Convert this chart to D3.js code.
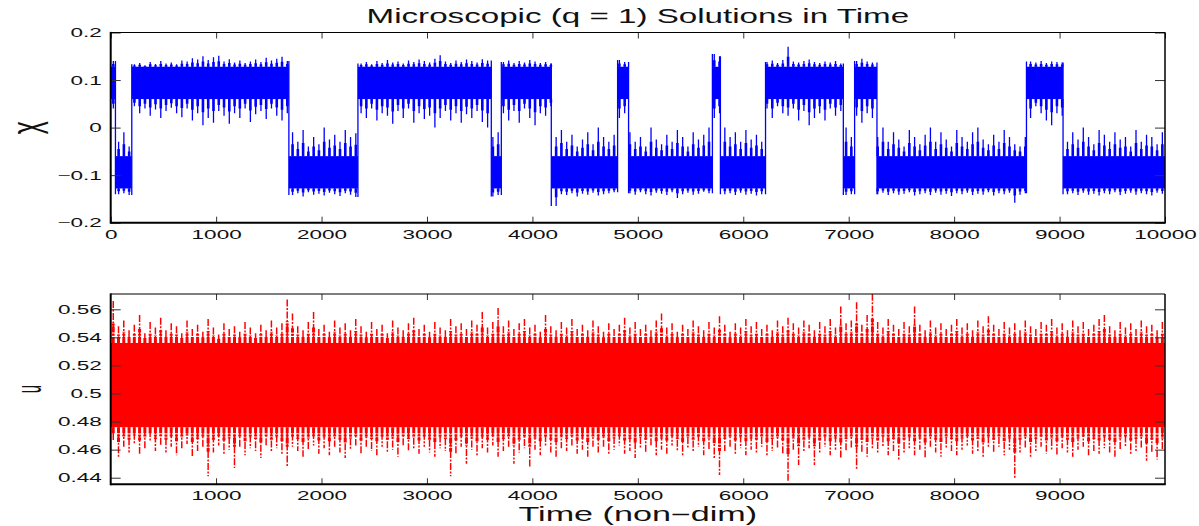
<!DOCTYPE html>
<html>
<head>
<meta charset="utf-8">
<script src="https://cdn.jsdelivr.net/npm/d3@7"></script>
<style>
  html, body { margin: 0; padding: 0; background: #fff; }
  svg { display: block; font-family: "Liberation Sans", Arial, Helvetica, sans-serif; }
</style>
</head>
<body>
<svg id="chart" width="1199" height="526"></svg>
<script>
// Both series are shown as min/max per 50-unit time bin
const BIN = 50;

// chi: regime switch times, sign of the first regime
const xSwitchTimes = [45, 200, 1690, 2345, 3610, 3705, 4179, 4808, 4912, 5707, 5783, 6211, 6949, 7056, 7268, 8686, 9033];
const xFirstSign = 1;

// chi: largest |x| in each bin
const xOuter = [
  0.140, 0.140, 0.138, 0.142,
  0.133, 0.136, 0.131, 0.138, 0.134, 0.140, 0.135, 0.137, 0.133, 0.141,
  0.139, 0.146, 0.143, 0.150, 0.142, 0.148, 0.151, 0.139, 0.144, 0.137,
  0.141, 0.136, 0.139, 0.143, 0.138, 0.147, 0.141, 0.145, 0.149, 0.140,
  0.142, 0.138, 0.145, 0.136, 0.141, 0.139, 0.143, 0.137, 0.140, 0.144, 0.138, 0.141, 0.146,
  0.135, 0.138, 0.133, 0.140, 0.136, 0.142, 0.137, 0.139, 0.135, 0.141, 0.138, 0.143, 0.140,
  0.137, 0.145, 0.152, 0.139, 0.136, 0.141, 0.138, 0.143, 0.140, 0.137, 0.144, 0.141,
  0.145, 0.142,
  0.138, 0.141, 0.136, 0.140, 0.137, 0.142, 0.139, 0.136, 0.138, 0.135,
  0.165, 0.140, 0.142, 0.138, 0.145, 0.139, 0.141, 0.137, 0.143, 0.140, 0.138, 0.136,
  0.142, 0.138,
  0.138, 0.141, 0.136, 0.140, 0.143, 0.137, 0.139, 0.142, 0.136, 0.148, 0.140, 0.137, 0.141, 0.139, 0.135, 0.138,
  0.155, 0.150,
  0.140, 0.138, 0.142, 0.137, 0.141, 0.139, 0.143, 0.140,
  0.138, 0.141, 0.136, 0.142, 0.170, 0.139, 0.137, 0.140, 0.143, 0.138, 0.136, 0.139, 0.137, 0.140, 0.135,
  0.142, 0.140,
  0.140, 0.145, 0.139, 0.137,
  0.140, 0.137, 0.142, 0.138, 0.141, 0.139, 0.136, 0.143, 0.140, 0.138, 0.142, 0.137, 0.141, 0.139, 0.144,
  0.138, 0.140, 0.137, 0.142, 0.139, 0.141, 0.136, 0.143, 0.138, 0.140, 0.137, 0.158, 0.141, 0.138,
  0.139, 0.137, 0.140, 0.136, 0.139, 0.138, 0.137,
  0.140, 0.138, 0.142, 0.137, 0.141, 0.139, 0.143, 0.138, 0.140, 0.136, 0.142, 0.139, 0.137, 0.141,
  0.138, 0.140, 0.143, 0.137, 0.139
];

// chi: smallest |x| in each bin
const xInner = [
  0.040, 0.030, 0.010, 0.040,
  0.045, 0.030, 0.040, 0.025, 0.038, 0.020, 0.035, 0.042, 0.030, 0.022,
  0.040, 0.015, 0.030, 0.005, 0.020, 0.010, 0.035, 0.025, 0.008, 0.030,
  0.020, 0.040, 0.012, 0.028, 0.035, 0.018, 0.040, 0.025, 0.015, 0.030,
  0.010, 0.030, 0.005, 0.040, 0.020, 0.035, 0.000, 0.025, 0.015, 0.030, 0.005, 0.020, 0.012,
  0.030, 0.020, 0.040, 0.015, 0.030, 0.025, 0.008, 0.035, 0.020, 0.040, 0.010, 0.030, 0.018,
  0.025, 0.000, 0.020, 0.035, 0.015, 0.030, 0.010, 0.028, 0.020, 0.035, 0.012, 0.000,
  0.020, 0.010,
  0.030, 0.015, 0.035, 0.010, 0.040, 0.020, 0.005, 0.030, 0.025, 0.045,
  0.020, 0.005, 0.030, 0.015, 0.040, 0.025, 0.010, 0.035, 0.000, 0.020, 0.030, 0.015,
  0.020, 0.030,
  0.010, 0.030, 0.020, 0.040, 0.000, 0.025, 0.035, 0.015, 0.030, 0.005, 0.020, 0.040, 0.010, 0.025, 0.015, 0.000,
  0.020, 0.030,
  0.000, 0.020, 0.010, 0.030, 0.005, 0.025, 0.015, 0.030,
  0.040, 0.020, 0.045, 0.030, 0.025, 0.040, 0.015, 0.035, 0.005, 0.020, 0.030, 0.015, 0.040, 0.025, 0.035,
  0.000, 0.020,
  0.025, 0.010, 0.030, 0.020,
  0.020, 0.000, 0.030, 0.010, 0.025, 0.040, 0.005, 0.020, 0.035, 0.015, 0.000, 0.030, 0.010, 0.025, 0.040,
  0.005, 0.020, 0.030, 0.010, 0.000, 0.025, 0.035, 0.015, 0.030, 0.005, 0.020, 0.035, 0.040, 0.020,
  0.020, 0.045, 0.030, 0.015, 0.005, 0.030, 0.025,
  0.030, 0.010, 0.025, 0.000, 0.020, 0.035, 0.005, 0.015, 0.030, 0.010, 0.025, 0.020, 0.040, 0.005,
  0.030, 0.015, 0.020, 0.035, 0.010
];

// chi: dense part of each regime (|x| from, to)
const xCore = [0.06, 0.128];

// u: largest value in each bin
const uHigh = [
  0.566, 0.548, 0.552, 0.545, 0.549, 0.556, 0.543, 0.551, 0.547, 0.554,
  0.545, 0.550, 0.548, 0.543, 0.552, 0.546, 0.549, 0.544, 0.553, 0.547,
  0.542, 0.550, 0.546, 0.548, 0.544, 0.551, 0.547, 0.543, 0.549, 0.545,
  0.552, 0.547, 0.550, 0.567, 0.557, 0.548, 0.545, 0.551, 0.558, 0.546,
  0.549, 0.544, 0.552, 0.547, 0.550, 0.545, 0.553, 0.548, 0.544, 0.551,
  0.546, 0.549, 0.543, 0.552, 0.547, 0.545, 0.550, 0.554, 0.546, 0.549,
  0.544, 0.551, 0.547, 0.545, 0.553, 0.548, 0.550, 0.546, 0.552, 0.549,
  0.558, 0.547, 0.551, 0.561, 0.548, 0.552, 0.546, 0.550, 0.553, 0.547,
  0.549, 0.544, 0.556, 0.548, 0.545, 0.551, 0.547, 0.553, 0.546, 0.549,
  0.545, 0.552, 0.548, 0.544, 0.550, 0.546, 0.549, 0.554, 0.547, 0.551,
  0.546, 0.549, 0.545, 0.552, 0.557, 0.547, 0.550, 0.544, 0.549, 0.546,
  0.552, 0.548, 0.545, 0.551, 0.547, 0.555, 0.549, 0.544, 0.550, 0.547,
  0.553, 0.548, 0.551, 0.546, 0.549, 0.545, 0.552, 0.548, 0.554, 0.550,
  0.547, 0.552, 0.549, 0.545, 0.551, 0.548, 0.553, 0.547, 0.562, 0.550,
  0.552, 0.565, 0.549, 0.556, 0.571, 0.551, 0.547, 0.553, 0.549, 0.546,
  0.551, 0.548, 0.562, 0.549, 0.545, 0.552, 0.547, 0.550, 0.546, 0.549,
  0.553, 0.547, 0.550, 0.545, 0.552, 0.548, 0.555, 0.549, 0.546, 0.551,
  0.547, 0.550, 0.545, 0.552, 0.548, 0.546, 0.551, 0.549, 0.553, 0.547,
  0.550, 0.545, 0.552, 0.548, 0.551, 0.546, 0.549, 0.553, 0.556, 0.548,
  0.545, 0.551, 0.547, 0.550, 0.546, 0.552, 0.548, 0.549, 0.545, 0.551
];

// u: smallest value in each bin
const uLow = [
  0.466, 0.455, 0.462, 0.458, 0.464, 0.457, 0.461, 0.466, 0.459, 0.463,
  0.458, 0.462, 0.456, 0.461, 0.464, 0.455, 0.459, 0.462, 0.441, 0.458,
  0.463, 0.457, 0.460, 0.447, 0.462, 0.456, 0.461, 0.459, 0.454, 0.463,
  0.458, 0.461, 0.456, 0.448, 0.462, 0.459, 0.455, 0.460, 0.463, 0.457,
  0.461, 0.456, 0.462, 0.458, 0.454, 0.460, 0.463, 0.457, 0.461, 0.459,
  0.456, 0.462, 0.458, 0.460, 0.455, 0.463, 0.459, 0.461, 0.457, 0.462,
  0.458, 0.455, 0.461, 0.459, 0.441, 0.457, 0.462, 0.450, 0.460, 0.456,
  0.461, 0.458, 0.463, 0.455, 0.459, 0.462, 0.450, 0.458, 0.461, 0.447,
  0.460, 0.456, 0.462, 0.458, 0.455, 0.461, 0.459, 0.463, 0.457, 0.460,
  0.455, 0.462, 0.458, 0.461, 0.456, 0.460, 0.463, 0.457, 0.459, 0.454,
  0.461, 0.458, 0.462, 0.456, 0.460, 0.457, 0.463, 0.459, 0.455, 0.461,
  0.458, 0.462, 0.456, 0.460, 0.453, 0.442, 0.459, 0.462, 0.457, 0.461,
  0.456, 0.460, 0.458, 0.462, 0.455, 0.459, 0.461, 0.457, 0.437, 0.460,
  0.449, 0.458, 0.461, 0.449, 0.457, 0.462, 0.456, 0.460, 0.454, 0.459,
  0.461, 0.446, 0.458, 0.455, 0.460, 0.457, 0.462, 0.456, 0.459, 0.452,
  0.458, 0.461, 0.456, 0.460, 0.454, 0.462, 0.458, 0.455, 0.461, 0.459,
  0.456, 0.460, 0.463, 0.457, 0.459, 0.454, 0.461, 0.458, 0.462, 0.456,
  0.460, 0.440, 0.458, 0.461, 0.455, 0.459, 0.462, 0.457, 0.460, 0.456,
  0.461, 0.458, 0.455, 0.460, 0.462, 0.456, 0.459, 0.457, 0.461, 0.458,
  0.455, 0.460, 0.462, 0.457, 0.459, 0.461, 0.452, 0.458, 0.453, 0.460
];

// u: dense band
const uCore = [0.476, 0.536];

// axes
const timeDomain = [0, 10000];
const timeDomainU = [1, 10000];
const timeTicksTop = [0, 1000, 2000, 3000, 4000, 5000, 6000, 7000, 8000, 9000, 10000];
const timeTicksBottom = [1000, 2000, 3000, 4000, 5000, 6000, 7000, 8000, 9000];
const xDomain = [-0.2, 0.2];
const xTicks = [-0.2, -0.1, 0, 0.1, 0.2];
const uDomain = [0.4353, 0.5709];
const uTicks = [0.44, 0.46, 0.48, 0.5, 0.52, 0.54, 0.56];

const title = "Microscopic (q = 1) Solutions in Time";
const xLabel = "Time (non\u2212dim)";

// layout
const LEFT = 110.7, RIGHT = 1165;
const P1 = { top: 32.5, bottom: 222.7 };
const P2 = { top: 294, bottom: 484.3 };
const STRETCH = 1.8; // the reference text is drawn wide

const svg = d3.select("#chart");

function stretchText(sel, k) {
  sel.each(function () {
    const w = this.getComputedTextLength();
    d3.select(this).attr("textLength", w * k).attr("lengthAdjust", "spacingAndGlyphs");
  });
}

// each bin: a thin bar over its full range, plus a thicker stub next to the dense band
// (the trace is busiest just outside the band, sparser toward the extremes)
function binStubs(bins, edgeLo, edgeHi) {
  const out = [];
  bins.forEach(d => {
    const lo = Math.min(d.hi, d.lo), hi = Math.max(d.hi, d.lo);
    if (hi > edgeHi(d)) out.push({ t: d.t, a: edgeHi(d), b: (edgeHi(d) + hi) / 2 });
    if (lo < edgeLo(d)) out.push({ t: d.t, a: edgeLo(d), b: (edgeLo(d) + lo) / 2 });
  });
  return out;
}

function drawFrame(g, p, xs, ys, xTickVals, yTickVals, yFmt) {
  const axes = g.append("g").attr("class", "axes");

  axes.append("g")
    .attr("transform", `translate(0,${p.bottom})`)
    .call(d3.axisBottom(xs).tickValues(xTickVals).tickSize(-6).tickPadding(7).tickFormat(d3.format("d")));
  axes.append("g")
    .attr("transform", `translate(0,${p.top})`)
    .call(d3.axisTop(xs).tickValues(xTickVals).tickSize(-6).tickFormat(""));
  axes.append("g")
    .attr("transform", `translate(${LEFT},0)`)
    .call(d3.axisLeft(ys).tickValues(yTickVals).tickSize(-10).tickPadding(9).tickFormat(yFmt));
  axes.append("g")
    .attr("transform", `translate(${RIGHT},0)`)
    .call(d3.axisRight(ys).tickValues(yTickVals).tickSize(-10).tickFormat(""));

  axes.selectAll(".domain").remove();
  axes.selectAll(".tick line").attr("stroke", "#333").attr("stroke-width", 1);
  axes.selectAll("text")
    .attr("font-size", 12.5)
    .attr("font-family", "Liberation Sans, Arial, sans-serif")
    .attr("fill", "#111");
  stretchText(axes.selectAll(".tick text"), STRETCH);

  // box: heavier left/bottom like the reference
  axes.append("line").attr("x1", LEFT).attr("x2", RIGHT).attr("y1", p.top).attr("y2", p.top)
    .attr("stroke", "#000").attr("stroke-width", 1.2);
  axes.append("line").attr("x1", RIGHT).attr("x2", RIGHT).attr("y1", p.top).attr("y2", p.bottom)
    .attr("stroke", "#000").attr("stroke-width", 1.5);
  axes.append("line").attr("x1", LEFT).attr("x2", LEFT).attr("y1", p.top - 0.6).attr("y2", p.bottom + 1)
    .attr("stroke", "#000").attr("stroke-width", 2);
  axes.append("line").attr("x1", LEFT).attr("x2", RIGHT + 0.75).attr("y1", p.bottom).attr("y2", p.bottom)
    .attr("stroke", "#000").attr("stroke-width", 2);
}

// ---------- top panel: chi ----------
const t1 = d3.scaleLinear().domain(timeDomain).range([LEFT, RIGHT]);
const y1 = d3.scaleLinear().domain(xDomain).range([P1.bottom, P1.top]);

const signAt = t => xSwitchTimes.reduce((s, T) => (t >= T ? -s : s), xFirstSign);

// one min/max bar per bin
const xBins = xOuter.map((o, i) => {
  const t = i * BIN + BIN / 2, s = signAt(t);
  return { t, s, hi: s * o, lo: s * xInner[i] };
});
// the jump at each switch, spanning the neighbouring bins' extremes
const xJumps = xSwitchTimes.map(T => {
  const i = Math.floor((T - BIN / 2) / BIN);
  return { t: T, hi: xBins[i].hi, lo: xBins[i + 1].hi };
});
const xStubs = binStubs(xBins,
  d => (d.s > 0 ? xCore[0] : -xCore[1]),
  d => (d.s > 0 ? xCore[1] : -xCore[0]));

const regimeEdges = [timeDomain[0], ...xSwitchTimes, timeDomain[1]];
const regimes = d3.pairs(regimeEdges).map(([a, b], i) => ({ a, b, s: i % 2 ? -xFirstSign : xFirstSign }));

svg.append("clipPath").attr("id", "clip1").append("rect")
  .attr("x", LEFT).attr("y", P1.top).attr("width", RIGHT - LEFT).attr("height", P1.bottom - P1.top);

const g1 = svg.append("g");
const plot1 = g1.append("g").attr("clip-path", "url(#clip1)");
plot1.selectAll("rect.core")
  .data(regimes)
  .join("rect")
  .attr("class", "core")
  .attr("x", d => t1(d.a))
  .attr("width", d => t1(d.b) - t1(d.a))
  .attr("y", d => y1(d.s > 0 ? xCore[1] : -xCore[0]))
  .attr("height", d => Math.abs(y1(xCore[0]) - y1(xCore[1])))
  .attr("fill", "#0000ff");
plot1.selectAll("line.stub")
  .data(xStubs)
  .join("line")
  .attr("class", "stub")
  .attr("x1", d => t1(d.t)).attr("x2", d => t1(d.t))
  .attr("y1", d => y1(d.a)).attr("y2", d => y1(d.b))
  .attr("stroke", "#0000ff")
  .attr("stroke-width", 2.6);
plot1.selectAll("line.bin")
  .data(xBins.concat(xJumps))
  .join("line")
  .attr("class", "bin")
  .attr("x1", d => t1(d.t)).attr("x2", d => t1(d.t))
  .attr("y1", d => y1(d.hi)).attr("y2", d => y1(d.lo))
  .attr("stroke", "#0000ff")
  .attr("stroke-width", 1.3);

drawFrame(g1, P1, t1, y1, timeTicksTop, xTicks, d3.format("~g"));

// ---------- bottom panel: u ----------
const t2 = d3.scaleLinear().domain(timeDomainU).range([LEFT, RIGHT]);
const y2 = d3.scaleLinear().domain(uDomain).range([P2.bottom, P2.top]);

const uBins = uHigh.map((hi, i) => ({ t: i * BIN + BIN / 2, hi, lo: uLow[i] }));
const uStubs = binStubs(uBins, () => uCore[0], () => uCore[1]);

svg.append("clipPath").attr("id", "clip2").append("rect")
  .attr("x", LEFT).attr("y", P2.top).attr("width", RIGHT - LEFT).attr("height", P2.bottom - P2.top);

const g2 = svg.append("g");
const plot2 = g2.append("g").attr("clip-path", "url(#clip2)");
plot2.append("rect")
  .attr("x", t2(timeDomainU[0]))
  .attr("width", t2(timeDomainU[1]) - t2(timeDomainU[0]))
  .attr("y", y2(uCore[1]))
  .attr("height", y2(uCore[0]) - y2(uCore[1]))
  .attr("fill", "#ff0000");
plot2.selectAll("line.stub")
  .data(uStubs)
  .join("line")
  .attr("class", "stub")
  .attr("x1", d => t2(d.t)).attr("x2", d => t2(d.t))
  .attr("y1", d => y2(d.a)).attr("y2", d => y2(d.b))
  .attr("stroke", "#ff0000")
  .attr("stroke-width", 3)
  .attr("stroke-dasharray", "6,1.2,2,1.2");
plot2.selectAll("line.bin")
  .data(uBins)
  .join("line")
  .attr("class", "bin")
  .attr("x1", d => t2(d.t)).attr("x2", d => t2(d.t))
  .attr("y1", d => y2(d.hi)).attr("y2", d => y2(d.lo))
  .attr("stroke", "#ff0000")
  .attr("stroke-width", 1.5)
  .attr("stroke-dasharray", "7,1.5,2,1.5");

drawFrame(g2, P2, t2, y2, timeTicksBottom, uTicks, d3.format("~g"));

// ---------- titles ----------
const midX = (LEFT + RIGHT) / 2;
svg.append("text")
  .attr("x", midX).attr("y", 22.5)
  .attr("text-anchor", "middle")
  .attr("font-size", 19.5)
  .attr("fill", "#111")
  .text(title)
  .call(stretchText, 1.7);

svg.append("text")
  .attr("x", midX).attr("y", 520.5)
  .attr("text-anchor", "middle")
  .attr("font-size", 19.5)
  .attr("fill", "#111")
  .text(xLabel)
  .call(stretchText, 1.75);

svg.append("text")
  .attr("transform", `translate(26,${(P1.top + P1.bottom) / 2}) scale(1.6,1) rotate(-90)`)
  .attr("text-anchor", "middle")
  .attr("dy", "0.35em")
  .attr("font-size", 25)
  .attr("fill", "#111")
  .text("\u03c7");

svg.append("text")
  .attr("transform", `translate(28,${(P2.top + P2.bottom) / 2}) scale(2.4,1) rotate(-90)`)
  .attr("text-anchor", "middle")
  .attr("dy", "0.35em")
  .attr("font-size", 15)
  .attr("fill", "#111")
  .text("u");
</script>
</body>
</html>
